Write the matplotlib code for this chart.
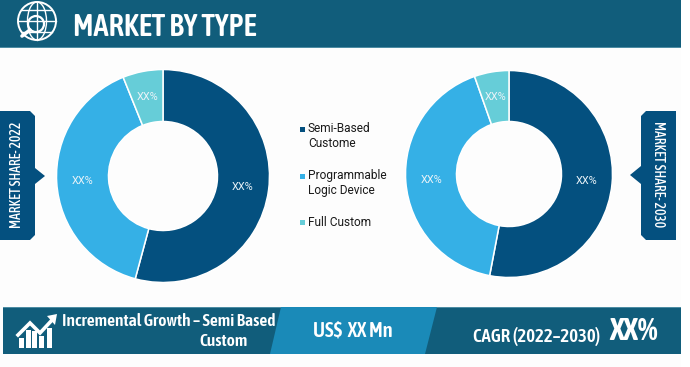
import matplotlib
matplotlib.use("Agg")
import matplotlib.pyplot as plt
from matplotlib.patches import Polygon, Circle, Rectangle, Ellipse

categories = ["Semi-Based\nCustome", "Programmable\nLogic Device", "Full Custom"]
share_2022 = [54.2, 39.7, 6.1]
share_2030 = [53.0, 41.6, 5.4]
slice_labels = ["XX%", "XX%", "XX%"]
colors = ["#04507f", "#35b0e6", "#66cdd8"]
title = "MARKET BY TYPE"
left_tag = "MARKET SHARE- 2022"
right_tag = "MARKET SHARE- 2030"
growth_line1 = "Incremental Growth \u2013 Semi Based"
growth_line2 = "Custom"
value_txt = "US$  XX Mn"
cagr = "CAGR (2022\u20132030)"
cagr_val = "XX%"

W, H = 690, 367
NARROW = ["Asap Condensed", "Liberation Sans", "DejaVu Sans"]
DARK = "#115d7b"
MID = "#1a8ab8"
TAG = "#04507f"

fig = plt.figure(figsize=(W / 100, H / 100), dpi=100, facecolor="white")
bg = fig.add_axes([0, 0, 1, 1])
bg.set_xlim(0, W); bg.set_ylim(H, 0); bg.axis("off")

bg.add_patch(Rectangle((0, 0), 681, 367, fc="#fdfdfd", ec="none"))
bg.add_patch(Rectangle((0, 0), 681, 47, fc=DARK, ec="none"))
bg.add_patch(Rectangle((0, 47), 681, 1.2, fc="#4d8ca3", ec="none"))
bg.text(73, 28, title, color="white", fontsize=22, fontweight=600, family=NARROW, va="center", ha="left")

# globe icon
gc = (37, 21)
for art in [Ellipse(gc, 38, 38, fc="none", ec="white", lw=1.4), Ellipse(gc, 19, 38, fc="none", ec="white", lw=1.0)]:
    bg.add_patch(art)
bg.plot([37, 37], [2, 40], color="white", lw=1.0)
for y, hw in [(10, 15), (21, 19), (32, 15)]:
    bg.plot([37 - hw, 37 + hw], [y, y], color="white", lw=1.0)
bg.add_patch(Circle((36, 24), 8, fc=DARK, ec="white", lw=1.6))
bg.plot([30, 22], [30, 36], color="white", lw=2.6, solid_capstyle="round")

# bottom band
bg.add_patch(Rectangle((3, 307), 678, 47, fc=DARK, ec="none"))
bg.add_patch(Rectangle((3, 306.5), 678, 1, fc="#4d8ca3", ec="none"))
bg.add_patch(Polygon([(281, 307), (437, 307), (425, 354), (270, 354)], fc=MID, ec="none"))
bg.text(168.5, 321, growth_line1, color="white", fontsize=12.6, fontweight=600, family=NARROW, va="center", ha="center")
bg.text(224, 341, growth_line2, color="white", fontsize=12.6, fontweight=600, family=NARROW, va="center", ha="center")
bg.text(353, 331, value_txt, color="white", fontsize=14.8, fontweight=600, family=NARROW, va="center", ha="center")
bg.text(537, 337, cagr, color="white", fontsize=13.5, fontweight=600, family=NARROW, va="center", ha="center")
bg.text(634, 332, cagr_val, color="white", fontsize=23, fontweight=700, family=NARROW, va="center", ha="center")

# growth icon
for x, top in [(19, 338), (25.5, 330), (32, 331), (39, 336), (47, 328)]:
    bg.add_patch(Rectangle((x, top), 5.2, 348 - top, fc="white", ec="none"))
bg.plot([18, 30, 40, 53], [335, 323, 333, 319], color="white", lw=2.6, solid_joinstyle="miter")
bg.add_patch(Polygon([(47, 316), (57, 314), (55, 325)], fc="white", ec="none"))

# side tags
bg.add_patch(Polygon([(0, 111), (30, 111), (35, 116), (35, 168), (45, 176), (35, 184), (35, 235), (30, 240), (0, 240)], fc=TAG, ec="none"))
bg.text(17.5, 175, left_tag, color="white", fontsize=9.8, fontweight=500, family=NARROW, rotation=90, va="center", ha="center")
bg.add_patch(Polygon([(676, 111), (646, 111), (641, 116), (641, 166), (630, 175), (641, 184), (641, 235), (646, 240), (676, 240)], fc=TAG, ec="none"))
bg.text(658, 174, right_tag, color="white", fontsize=9.8, fontweight=500, family=NARROW, rotation=-90, va="center", ha="center")

# legend
for y, col, lab, ty in [(129, colors[0], categories[0], 136), (176, colors[1], categories[1], 183), (222, colors[2], categories[2], 222)]:
    bg.add_patch(Rectangle((300, y - 2.5), 5, 5, fc=col, ec="none"))
    bg.text(308, ty, lab, color="#1a1a1a", fontsize=8.6, family=["Roboto", "DejaVu Sans"], va="center", ha="left", linespacing=1.25)


def donut(cx, cy, r, hole, vals):
    ax = fig.add_axes([(cx - r - 2) / W, 1 - (cy + r + 2) / H, (2 * r + 4) / W, (2 * r + 4) / H])
    ax.patch.set_alpha(0)
    ax.pie(vals, colors=colors, startangle=90, counterclock=False, radius=r / (r + 2),
           wedgeprops=dict(width=(r - hole) / (r + 2), edgecolor="white", linewidth=1.1),
           labels=slice_labels, labeldistance=(r + hole) / 2 / r,
           textprops=dict(color="#eaf3f8", fontsize=7.8, ha="center", va="center", family=["Roboto", "DejaVu Sans"]))
    ax.set_xlim(-1, 1); ax.set_ylim(-1, 1)


donut(163, 176, 106.5, 54.5, share_2022)
donut(509, 174, 103.5, 52.5, share_2030)

fig.savefig("out.png", dpi=100)
